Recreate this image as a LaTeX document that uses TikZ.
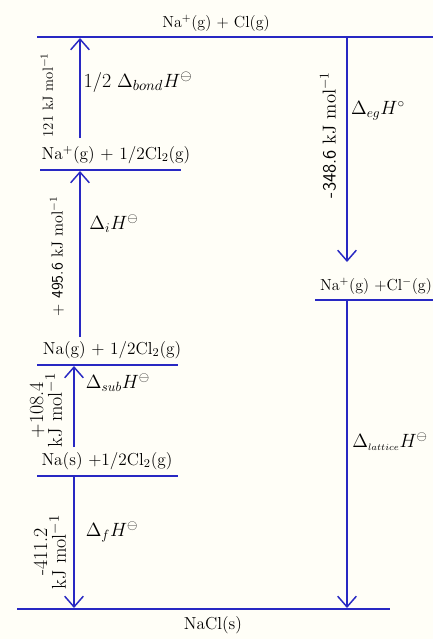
\documentclass[tikz,border=0pt]{standalone}
\usepackage{amsmath, amssymb}
\usetikzlibrary{arrows.meta}
\definecolor{levelblue}{RGB}{40, 40, 195}
\definecolor{paper}{RGB}{255, 254, 247}
\tikzset{
  level/.style={draw=levelblue, line width=1.1pt},
  jump/.style={draw=levelblue, line width=1.1pt, -{Straight Barb[length=8pt, width=14pt]}},
  species/.style={font=\fontsize{13}{15}\selectfont},
  enth/.style={font=\fontsize{14}{15}\selectfont},
  value/.style={font=\fontsize{12}{14}\selectfont, rotate=90, align=center, inner sep=1pt},
  bigvalue/.style={value, font=\fontsize{15}{14}\selectfont},
}

\begin{document}
\begin{tikzpicture}[x=0.75pt, y=-0.75pt]
  \fill[paper] (0,0) rectangle (433,639);
  \useasboundingbox (0,0) rectangle (433,639);

  % Energy levels
  \coordinate (top-l) at (37,37);   \coordinate (top-r) at (433,37);
  \coordinate (ion-l) at (40,170);  \coordinate (ion-r) at (181,170);
  \coordinate (gas-l) at (37,365);  \coordinate (gas-r) at (178,365);
  \coordinate (sol-l) at (37,476);  \coordinate (sol-r) at (178,476);
  \coordinate (pair-l) at (315,300); \coordinate (pair-r) at (433,300);
  \coordinate (nacl-l) at (17,609); \coordinate (nacl-r) at (390,609);

  \draw[level] (top-l) -- (top-r);
  \draw[level] (ion-l) -- (ion-r);
  \draw[level] (gas-l) -- (gas-r);
  \draw[level] (sol-l) -- (sol-r);
  \draw[level] (pair-l) -- (pair-r);
  \draw[level] (nacl-l) -- (nacl-r);

  \node[species, font=\fontsize{12}{14}\selectfont] (top) at (216,23) {Na$^{+}$(g) + Cl(g)};
  \node[species] (ion) at (116,155) {Na$^{+}$(g) + 1/2Cl$_{2}$(g)};
  \node[species] (gas) at (112,350) {Na(g) + 1/2Cl$_{2}$(g)};
  \node[species] (sol) at (107,461) {Na(s) +1/2Cl$_{2}$(g)};
  \node[species, font=\fontsize{12}{14}\selectfont] (pair) at (376,286) {Na$^{+}$(g) +Cl$^{-}$(g)};
  \node[species] (nacl) at (213,625) {NaCl(s)};

  % Arrow ends
  \coordinate (bond-s) at (80,138);  \coordinate (bond-e) at (80,38);
  \coordinate (ie-s) at (80,337);    \coordinate (ie-e) at (80,171);
  \coordinate (sub-s) at (74,447);   \coordinate (sub-e) at (74,366);
  \coordinate (form-s) at (74,477);  \coordinate (form-e) at (74,608);
  \coordinate (eg-s) at (347,37);    \coordinate (eg-e) at (347,262);
  \coordinate (lat-s) at (347,301);  \coordinate (lat-e) at (347,608);

  \draw[jump] (bond-s) -- (bond-e);
  \draw[jump] (ie-s) -- (ie-e);
  \draw[jump] (sub-s) -- (sub-e);
  \draw[jump] (form-s) -- (form-e);
  \draw[jump] (eg-s) -- (eg-e);
  \draw[jump] (lat-s) -- (lat-e);

  % Enthalpy labels
  \node[enth, font=\fontsize{15}{16}\selectfont] (bond) at (138,82) {1/2 $\Delta_{bond}H^{\ominus}$};
  \node[enth] (ie) at (114,224) {$\Delta_{i}H^{\ominus}$};
  \node[enth] (sub) at (118,383) {$\Delta_{sub}H^{\ominus}$};
  \node[enth] (form) at (112,532) {$\Delta_{f}H^{\ominus}$};
  \node[enth] (eg) at (378,111) {$\Delta_{eg}H^{\circ}$};
  \node[enth] (lat) at (390,442) {$\Delta_{\scriptscriptstyle lattice}H^{\ominus}$};

  % Values
  \node[value, font=\fontsize{11}{12}\selectfont] (bond-v) at (47,95) {121 kJ mol$^{-1}$};
  \node[value] (ie-v) at (57,256) {\textsf{+ 495.6} kJ mol$^{-1}$};
  \node[bigvalue] (sub-v) at (46,410) {+108.4\\kJ mol$^{-1}$};
  \node[bigvalue] (form-v) at (50,552) {-411.2\\kJ mol$^{-1}$};
  \node[value, font=\fontsize{14}{16}\selectfont] (eg-v) at (328,135) {\textsf{-348.6} kJ mol$^{-1}$};
\end{tikzpicture}
\end{document}
